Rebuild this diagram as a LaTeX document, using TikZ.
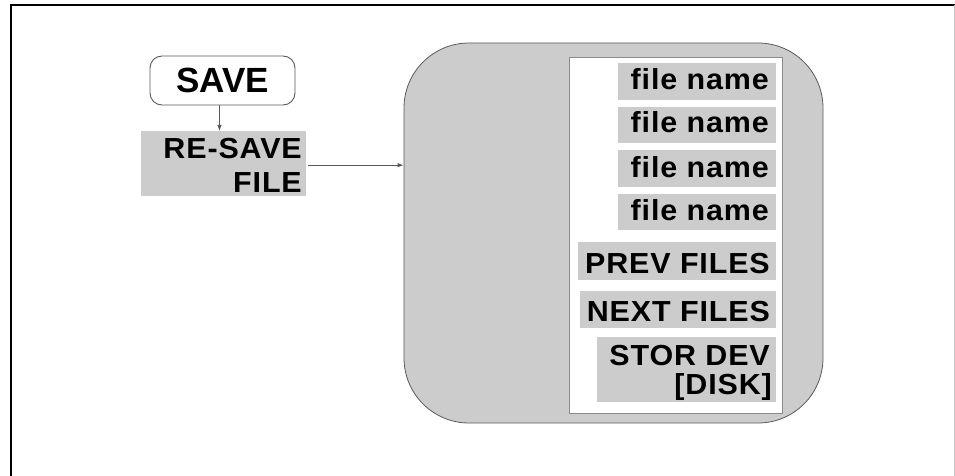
\documentclass[tikz,border=0pt]{standalone}
\usepackage{fontspec}
\setmainfont{Liberation Sans}
\newfontfamily\lblfont{Liberation Sans Bold}[FakeStretch=1.05,LetterSpace=3]
\newfontfamily\savefont{Liberation Sans Bold}
\usetikzlibrary{arrows.meta}
\definecolor{shade}{gray}{0.80}
\definecolor{edge}{gray}{0.35}
\tikzset{
  x=1pt, y=-1pt,
  bgbox/.style={fill=shade, inner sep=0pt, anchor=north west},
  lbl/.style={inner sep=0pt, anchor=base east, font=\lblfont\fontsize{29}{32}\selectfont},
  conn/.style={draw=edge, line width=0.9pt, -{Latex[length=6pt,width=4.5pt]}}
}
\begin{document}
\begin{tikzpicture}
\useasboundingbox (0,0) rectangle (955,476);
% frame
\draw[line width=2pt] (11,476) -- (11,5) -- (955,5);
\draw[gray!45, line width=1pt] (954,5) -- (954,476);

% SAVE key
\node[draw=edge, line width=0.9pt, rounded corners=12pt, minimum width=145pt, minimum height=49pt,
  inner sep=0pt, font=\savefont\fontsize{35}{35}\selectfont] (save) at (222.5,80.5) {SAVE};

% RE-SAVE FILE softkey
\node[bgbox, minimum width=165pt, minimum height=65pt] (rs) at (141,131) {};
\node[lbl] (rs1) at (302,158) {RE-SAVE};
\node[lbl] (rs2) at (302,192) {FILE};

% big rounded menu box
\node[draw=edge, line width=0.8pt, fill=shade, rounded corners=65pt, minimum width=419pt,
  minimum height=380pt, inner sep=0pt] (big) at (613.5,233) {};
\node[draw=edge!70, line width=0.8pt, fill=white, minimum width=213pt, minimum height=356pt,
  inner sep=0pt] (menu) at (675.5,235) {};

% menu items
\node[bgbox, minimum width=158pt, minimum height=37pt] (b1) at (618,63) {};
\node[lbl] (t1) at (769,90) {file name};
\node[bgbox, minimum width=158pt, minimum height=36pt] (b2) at (618,107) {};
\node[lbl] (t2) at (769,132) {file name};
\node[bgbox, minimum width=158pt, minimum height=37pt] (b3) at (618,150) {};
\node[lbl] (t3) at (769,177) {file name};
\node[bgbox, minimum width=158pt, minimum height=36pt] (b4) at (618,194) {};
\node[lbl] (t4) at (769,220) {file name};
\node[bgbox, minimum width=198pt, minimum height=38pt] (b5) at (578,242) {};
\node[lbl] (t5) at (770,273) {PREV FILES};
\node[bgbox, minimum width=196pt, minimum height=37pt] (b6) at (580,291) {};
\node[lbl] (t6) at (770,321) {NEXT FILES};
\node[bgbox, minimum width=179pt, minimum height=65pt] (b7) at (597,337) {};
\node[lbl] (t7) at (770,365) {STOR DEV};
\node[lbl] (t8) at (772,394) {[DISK]};

% connectors
\draw[conn] ([xshift=-3pt]save.south) -- ([xshift=-3pt]save.south |- rs.north);
\draw[conn] ([xshift=2pt,yshift=-1.5pt]rs.east) -- ([yshift=-1.5pt]rs.east -| big.west);
\end{tikzpicture}
\end{document}
